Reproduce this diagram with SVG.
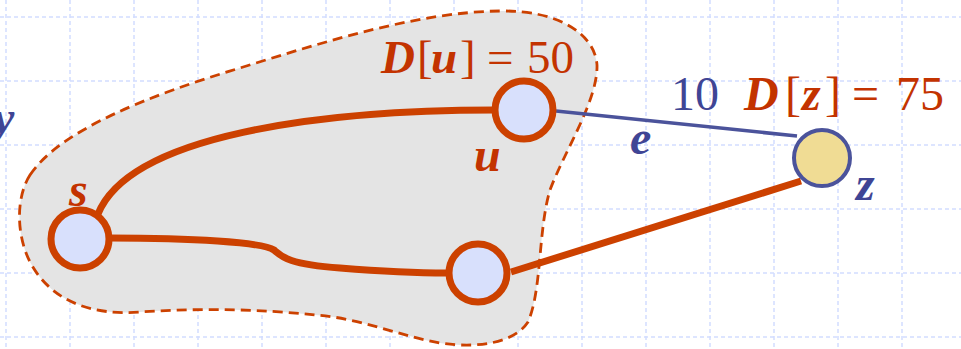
<svg xmlns="http://www.w3.org/2000/svg" width="961" height="349" viewBox="0 0 961 349">
<style>
.grid line{stroke:#d2ddff;stroke-width:1.5;stroke-dasharray:4 3}
.edge{fill:none;stroke:#cc4100;stroke-width:7;stroke-linecap:butt}
.blue{fill:none;stroke:#4b539b;stroke-width:3.5}
.node{fill:#d8e0fc;stroke:#cc4100;stroke-width:7}
.znode{fill:#f0dc94;stroke:#4b539b;stroke-width:4}
.lbl{font-family:"Liberation Serif","Times New Roman",serif;font-size:48px}
.r{fill:#c33300}
.b{fill:#3f4595}
.bi{font-weight:bold;font-style:italic}
</style>
<rect width="961" height="349" fill="#ffffff"/>
<g class="grid">
<line x1="6" y1="0" x2="6" y2="349"/><line x1="70" y1="0" x2="70" y2="349"/><line x1="134" y1="0" x2="134" y2="349"/><line x1="198" y1="0" x2="198" y2="349"/><line x1="262" y1="0" x2="262" y2="349"/><line x1="326" y1="0" x2="326" y2="349"/><line x1="390" y1="0" x2="390" y2="349"/><line x1="454" y1="0" x2="454" y2="349"/><line x1="518" y1="0" x2="518" y2="349"/><line x1="582" y1="0" x2="582" y2="349"/><line x1="646" y1="0" x2="646" y2="349"/><line x1="710" y1="0" x2="710" y2="349"/><line x1="774" y1="0" x2="774" y2="349"/><line x1="838" y1="0" x2="838" y2="349"/><line x1="902" y1="0" x2="902" y2="349"/>
<line x1="0" y1="17" x2="961" y2="17"/><line x1="0" y1="81" x2="961" y2="81"/><line x1="0" y1="145" x2="961" y2="145"/><line x1="0" y1="209" x2="961" y2="209"/><line x1="0" y1="273" x2="961" y2="273"/><line x1="0" y1="337" x2="961" y2="337"/>
</g>
<g id="cloud">
<path d="M30 175 C60 130 150 95 240 68 C330 40 420 12 500 11 C560 10 595 35 597 65 C598 100 565 150 550 190 C538 230 542 290 528 322 C515 342 480 349 440 343 C400 336 360 318 315 315 C260 309 200 308 140 312 C90 316 50 300 30 262 C15 232 17 195 30 175 Z" fill="#e4e4e4" stroke="#cc4100" stroke-width="2.8" stroke-dasharray="10 6"/>
</g>
<g id="connectors">
<path class="blue" d="M556 111 L797 136"/>
<path class="edge" d="M495 110 C320 110 130 135 98 214"/>
<path class="edge" d="M110 238 C190 238 262 242 274 250 C282 257 288 264 340 268 C390 272 420 273 447 273"/>
<path class="edge" d="M511 272 L801 181"/>
</g>
<g id="node-u"><circle class="node" cx="524" cy="110" r="29"/></g>
<g id="node-s"><circle class="node" cx="80" cy="239" r="29"/></g>
<g id="node-v"><circle class="node" cx="478" cy="273" r="29"/></g>
<g id="node-z"><circle class="znode" cx="822" cy="158" r="28"/></g>
<g id="labels" class="lbl">
<text y="73" class="r" style="font-size:47px"><tspan x="381" class="bi">D</tspan><tspan x="417">[</tspan><tspan x="431" class="bi">u</tspan><tspan x="460">]</tspan><tspan x="487">=</tspan><tspan x="527">50</tspan></text>
<text x="671" y="110" class="b">10</text>
<text y="110" class="r"><tspan x="744" class="bi">D</tspan><tspan x="785">[</tspan><tspan x="802" class="bi">z</tspan><tspan x="825">]</tspan><tspan x="852">=</tspan><tspan x="896">75</tspan></text>
<text x="630" y="154" class="b bi">e</text>
<text x="474" y="171" class="r bi">u</text>
<text x="69" y="206" class="r bi">s</text>
<text x="856" y="200" class="b bi">z</text>
<text x="-7" y="134" class="b bi">y</text>
</g>
</svg>
